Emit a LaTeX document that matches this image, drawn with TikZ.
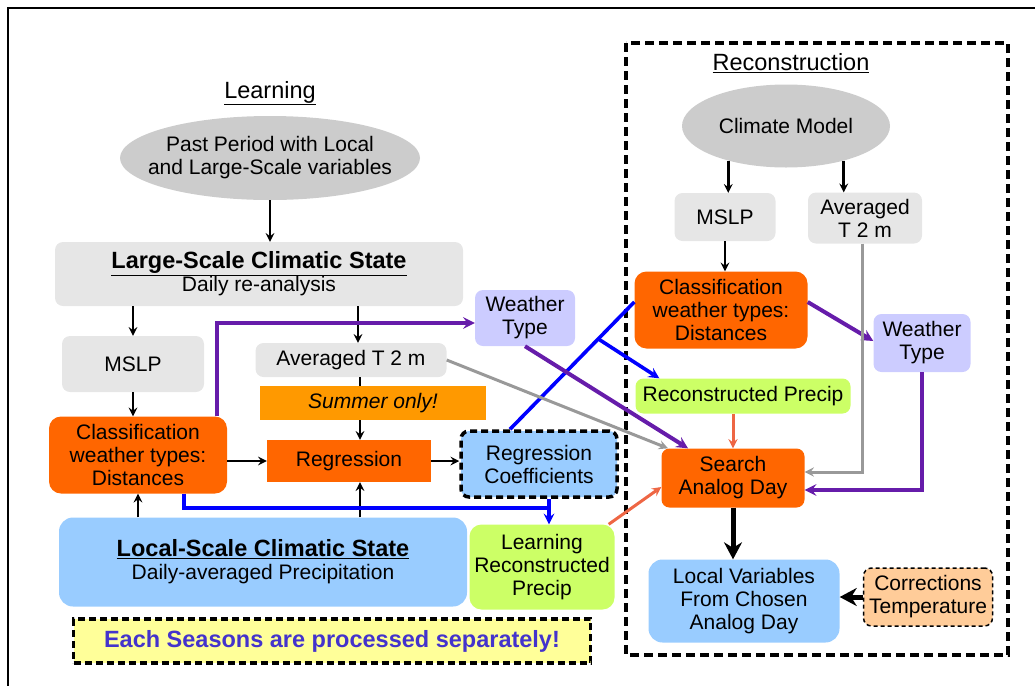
\documentclass[tikz,border=0pt]{standalone}
\usepackage{fontspec}
\setmainfont{Liberation Sans}
\usetikzlibrary{shapes.geometric,arrows.meta}
\definecolor{boxgray}{HTML}{E6E6E6}
\definecolor{ellgray}{HTML}{CCCCCC}
\definecolor{lavender}{HTML}{CCCCFF}
\definecolor{summerorange}{HTML}{FF9900}
\definecolor{redorange}{HTML}{FF6600}
\definecolor{skyblue}{HTML}{99CCFF}
\definecolor{limegreen}{HTML}{CCFF66}
\definecolor{paleyellow}{HTML}{FFFF99}
\definecolor{peach}{HTML}{FFCC99}
\definecolor{wtpurple}{RGB}{102,28,170}
\definecolor{salmon}{RGB}{238,102,68}
\definecolor{seasonblue}{RGB}{68,51,204}
\newcommand{\bigbf}[1]{{\fontsize{23.5}{25}\selectfont\textbf{#1}}}
\begin{document}
\begin{tikzpicture}[x=1pt,y=-1pt,>=stealth,
  every node/.style={font=\fontsize{21}{23}\selectfont,align=center,inner sep=0pt},
  wh/.style 2 args={minimum width=#1pt,minimum height=#2pt},
  title/.style={font=\fontsize{23.5}{25}\selectfont},
  box/.style={rounded corners=8pt},
  ell/.style={ellipse,fill=ellgray},
  blk/.style={line width=2.8pt,->},
  thickblk/.style={line width=5pt,-{Stealth[length=17pt,width=18pt]}},
  purp/.style={line width=4pt,wtpurple,->},
  blu/.style={line width=3.6pt,blue},
  gry/.style={line width=3pt,black!40,->},
  slm/.style={line width=3pt,salmon,->},
  dashbox/.style={draw=black,line width=3.5pt,dash pattern=on 7pt off 4pt}]
\useasboundingbox (0,0) rectangle (1035,686);
\draw[line width=2pt] (1035,8) -- (8,8) -- (8,686);

\node[title] (learnT) at (270,93) {\underline{Learning}};
\node[ell,inner xsep=-20pt,wh={300}{84}] (past) at (270,158) {Past Period with Local\\and Large-Scale variables};
\node[box,fill=boxgray,wh={408}{64}] (large) at (259,274)
  {\bigbf{\underline{Large-Scale Climatic State}}\\Daily re-analysis};
\node[box,fill=boxgray,wh={142}{56}] (mslpL) at (133,364) {MSLP};
\node[box,fill=boxgray,wh={191}{34}] (avgL) at (351,360) {Averaged T 2 m};
\node[box,fill=lavender,wh={100}{56}] (wtL) at (525,318) {Weather\\Type};
\node[fill=redorange,wh={164}{42}] (regr) at (349,461) {Regression};
\node[box,rounded corners=12pt,fill=redorange,wh={178}{77}] (classL) at (138,455)
  {Classification\\weather types:\\Distances};
\node[box,fill=skyblue,dashbox,wh={156}{66}] (coef) at (539,464) {Regression\\Coefficients};
\node[box,rounded corners=14pt,fill=skyblue,wh={408}{89}] (local) at (263,562)
  {\bigbf{\underline{Local-Scale Climatic State}}\\Daily-averaged Precipitation};
\node[box,rounded corners=12pt,fill=limegreen,wh={145}{85}] (learnP) at (542,567)
  {Learning\\Reconstructed\\Precip};
\node[fill=paleyellow,dashbox,wh={517}{44}] (seasons) at (332,641)
  {\textcolor{seasonblue}{\bigbf{Each Seasons are processed separately!}}};

\draw[line width=4pt,dash pattern=on 9pt off 5pt] (626,43) rectangle (1008,655);
\node[title] (reconT) at (791,63) {\underline{Reconstruction}};
\node[ell,wh={208}{83}] (climate) at (786,126) {Climate Model};
\node[box,fill=boxgray,wh={101}{48}] (mslpR) at (725,217) {MSLP};
\node[box,fill=boxgray,wh={114}{51}] (avgR) at (865,218) {Averaged\\T 2 m};
\node[box,rounded corners=12pt,fill=redorange,wh={173}{77}] (classR) at (721,310)
  {Classification\\weather types:\\Distances};
\node[box,fill=lavender,wh={97}{58}] (wtR) at (922,343) {Weather\\Type};
\node[box,fill=limegreen,wh={215}{35}] (recP) at (743,396) {Reconstructed Precip};
\node[box,fill=redorange,wh={143}{59}] (search) at (733,478) {Search\\Analog Day};
\node[box,rounded corners=14pt,fill=skyblue,wh={191}{83}] (localV) at (744,601)
  {Local Variables\\From Chosen\\Analog Day};
\node[box,fill=peach,draw=black,line width=1.5pt,dash pattern=on 4pt off 3pt,wh={129}{58}] (corr) at (928,597)
  {Corrections\\Temperature};
\coordinate (bj) at (549,508);

\draw[blk] (past.south) -- (past.south |- large.north);
\draw[blk] (mslpL.north |- large.south) -- (mslpL.north);
\draw[blk] ([xshift=7pt]avgL.north |- large.south) -- ([xshift=7pt]avgL.north);
\draw[purp] ([xshift=79pt]classL.north) |- ([yshift=-5pt]wtL.west);
\draw[blk] (mslpL.south) -- (mslpL.south |- classL.north);
\draw[blk] ([xshift=11pt]regr.north |- avgL.south) -- ([xshift=11pt]regr.north);
\draw[blk] (classL.east |- regr.west) -- (regr.west);
\draw[blk] (regr.east) -- (coef.west |- regr.east);
\draw[blk] (classL.south |- local.north) -- (classL.south);
\draw[blk] ([xshift=11pt]regr.south |- local.north) -- ([xshift=11pt]regr.south);
\draw[blu] ([xshift=46pt]classL.south) |- (bj);
\draw[blu,->] (coef.south -| bj) -- (learnP.north -| bj);
\draw[blu] ([xshift=-29pt]coef.north) -- coordinate[pos=0.71] (bb) ([yshift=8pt]classR.west);
\draw[blu,->] (bb) -- ([xshift=24pt]recP.north west);
\draw[gry] (avgL.east) -- ([xshift=-65pt]search.north);
\draw[purp] (wtL.south) -- ([xshift=-45pt]search.north);
\draw[slm] ([xshift=-6pt]learnP.north east) -- ([yshift=-9pt]search.west);

\draw[blk] (climate.211) -- (climate.211 |- mslpR.north);
\draw[blk] (climate.329) -- (climate.329 |- avgR.north);
\draw[blk] (mslpR.south) -- (mslpR.south |- classR.north);
\draw[purp] ([yshift=8pt]classR.east) -- ([yshift=2pt]wtR.west);
\draw[purp] (wtR.south) |- ([yshift=-12pt]search.east);
\draw[gry] ([xshift=-3pt]avgR.south) |- ([yshift=6pt]search.east);
\draw[slm] (recP.south -| search.north) -- (search.north);
\draw[thickblk] (search.south) -- (search.south |- localV.north);
\draw[thickblk] (corr.west) -- (localV.east |- corr.west);

\node[fill=summerorange,wh={226}{34}] (summer) at (373,403) {\textit{Summer only!}};
\end{tikzpicture}
\end{document}
